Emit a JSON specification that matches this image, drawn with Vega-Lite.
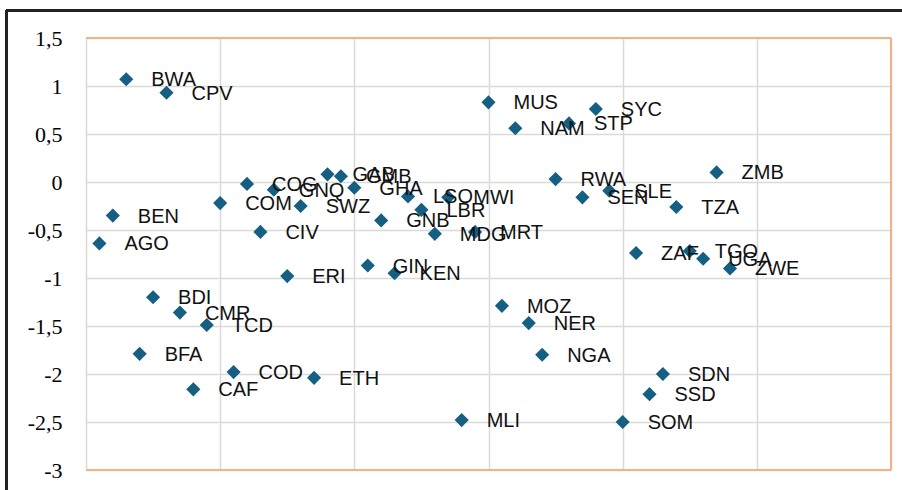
{
  "$schema": "https://vega.github.io/schema/vega-lite/v6.json",
  "autosize": {"type": "none"},
  "width": 805,
  "height": 432,
  "padding": {"left": 86, "top": 38, "right": 11, "bottom": 20},
  "background": "white",
  "config": {"view": {"stroke": null}},
  "data": {"values": [
    {"code": "AGO", "x": 1, "y": -0.64},
    {"code": "BEN", "x": 2, "y": -0.35},
    {"code": "BWA", "x": 3, "y": 1.07},
    {"code": "BFA", "x": 4, "y": -1.79},
    {"code": "BDI", "x": 5, "y": -1.2},
    {"code": "CPV", "x": 6, "y": 0.93},
    {"code": "CMR", "x": 7, "y": -1.36},
    {"code": "CAF", "x": 8, "y": -2.16},
    {"code": "TCD", "x": 9, "y": -1.49},
    {"code": "COM", "x": 10, "y": -0.22},
    {"code": "COD", "x": 11, "y": -1.98},
    {"code": "COG", "x": 12, "y": -0.02},
    {"code": "CIV", "x": 13, "y": -0.52},
    {"code": "GNQ", "x": 14, "y": -0.08},
    {"code": "ERI", "x": 15, "y": -0.98},
    {"code": "SWZ", "x": 16, "y": -0.25},
    {"code": "ETH", "x": 17, "y": -2.04},
    {"code": "GAB", "x": 18, "y": 0.08},
    {"code": "GMB", "x": 19, "y": 0.06},
    {"code": "GHA", "x": 20, "y": -0.06},
    {"code": "GIN", "x": 21, "y": -0.87},
    {"code": "GNB", "x": 22, "y": -0.4},
    {"code": "KEN", "x": 23, "y": -0.95},
    {"code": "LSO", "x": 24, "y": -0.15},
    {"code": "LBR", "x": 25, "y": -0.29},
    {"code": "MDG", "x": 26, "y": -0.54},
    {"code": "MWI", "x": 27, "y": -0.16},
    {"code": "MLI", "x": 28, "y": -2.48},
    {"code": "MRT", "x": 29, "y": -0.52},
    {"code": "MUS", "x": 30, "y": 0.83},
    {"code": "MOZ", "x": 31, "y": -1.29},
    {"code": "NAM", "x": 32, "y": 0.56},
    {"code": "NER", "x": 33, "y": -1.47},
    {"code": "NGA", "x": 34, "y": -1.8},
    {"code": "RWA", "x": 35, "y": 0.03},
    {"code": "STP", "x": 36, "y": 0.61},
    {"code": "SEN", "x": 37, "y": -0.16},
    {"code": "SYC", "x": 38, "y": 0.76},
    {"code": "SLE", "x": 39, "y": -0.09},
    {"code": "SOM", "x": 40, "y": -2.5},
    {"code": "ZAF", "x": 41, "y": -0.74},
    {"code": "SSD", "x": 42, "y": -2.21},
    {"code": "SDN", "x": 43, "y": -2.0},
    {"code": "TZA", "x": 44, "y": -0.26},
    {"code": "TGO", "x": 45, "y": -0.72},
    {"code": "UGA", "x": 46, "y": -0.8},
    {"code": "ZMB", "x": 47, "y": 0.1},
    {"code": "ZWE", "x": 48, "y": -0.9}
  ]},
  "layer": [
    {
      "mark": {"type": "point", "shape": "diamond", "filled": true, "size": 200, "color": "#156082", "opacity": 1},
      "encoding": {
        "x": {"field": "x", "type": "quantitative",
          "scale": {"domain": [0, 60], "nice": false, "zero": false},
          "axis": {"values": [0, 10, 20, 30, 40, 50, 60], "labels": false, "ticks": false, "domain": false, "title": null, "grid": true, "gridColor": "#d9d9d9", "gridWidth": 1.5}},
        "y": {"field": "y", "type": "quantitative",
          "scale": {"domain": [-3, 1.5], "nice": false, "zero": false},
          "axis": {"values": [-3, -2.5, -2, -1.5, -1, -0.5, 0, 0.5, 1, 1.5], "labelExpr": "replace(replace(format(datum.value, ''), '.', ','), '\u2212', '-')", "ticks": false, "domain": false, "title": null, "grid": true, "gridColor": "#d9d9d9", "gridWidth": 1.5, "labelFont": "Liberation Serif", "labelFontSize": 22, "labelColor": "#000000", "labelPadding": 24}}
      }
    },
    {
      "mark": {"type": "rule", "color": "#f4b183", "strokeWidth": 1.8},
      "encoding": {"y": {"datum": 1.5, "type": "quantitative"}}
    },
    {
      "mark": {"type": "rule", "color": "#f4b183", "strokeWidth": 1.8},
      "encoding": {"y": {"datum": -3, "type": "quantitative"}}
    },
    {
      "mark": {"type": "rule", "color": "#f4b183", "strokeWidth": 1.8},
      "encoding": {"x": {"datum": 60, "type": "quantitative"}}
    },
    {
      "mark": {"type": "rule", "color": "#222222", "strokeWidth": 2, "clip": false},
      "encoding": {
        "x": {"datum": -5.92, "type": "quantitative"},
        "x2": {"datum": 60.9},
        "y": {"datum": 1.79, "type": "quantitative"}
      }
    },
    {
      "mark": {"type": "rule", "color": "#222222", "strokeWidth": 2, "clip": false},
      "encoding": {
        "x": {"datum": -5.92, "type": "quantitative"},
        "y": {"datum": 1.79, "type": "quantitative"},
        "y2": {"datum": -3.25}
      }
    },
    {
      "mark": {"type": "text", "align": "left", "baseline": "middle", "dx": 25, "dy": 1, "font": "Liberation Sans", "fontSize": 20, "color": "#111111"},
      "encoding": {
        "x": {"field": "x", "type": "quantitative"},
        "y": {"field": "y", "type": "quantitative"},
        "text": {"field": "code"}
      }
    }
  ]
}
